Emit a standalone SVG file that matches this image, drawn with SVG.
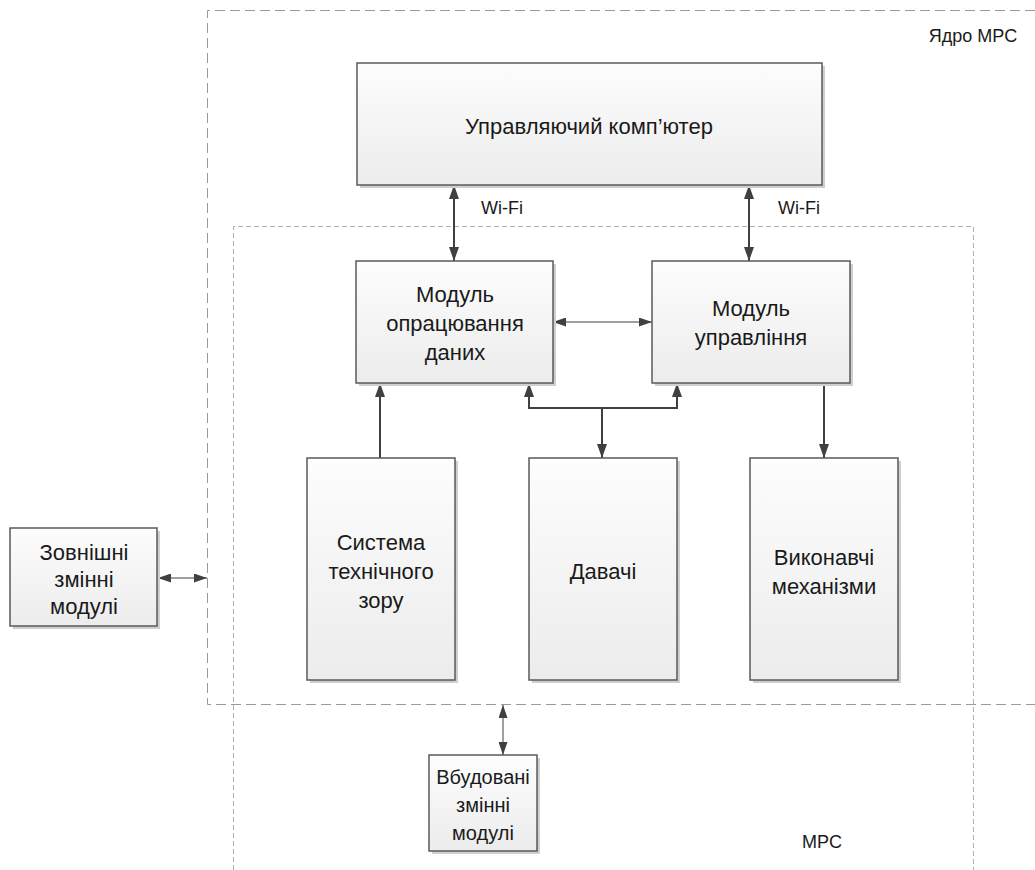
<svg xmlns="http://www.w3.org/2000/svg" width="1035" height="870" viewBox="0 0 1035 870">
<style>
.t{font-family:"Liberation Sans",Arial,sans-serif;fill:#1a1a1a;text-anchor:middle}
.b{font-size:22px}
.m{font-size:20px}
.s{font-size:17px}
.w{font-size:18px}
.box{fill:url(#g);stroke:#5a5a5a;stroke-width:1.5}
.sh{fill:#cfcfcf}
.d1{fill:none;stroke:#9a9a9a;stroke-width:1;stroke-dasharray:10 5}
.d2{fill:none;stroke:#b0b0b0;stroke-width:1;stroke-dasharray:5 3}
.a{fill:none;stroke:#404040;stroke-width:2}
.a2{fill:none;stroke:#404040;stroke-width:1}
</style>
<defs>
<linearGradient id="g" x1="0" y1="0" x2="0" y2="1">
<stop offset="0" stop-color="#fdfdfd"/>
<stop offset="1" stop-color="#ececec"/>
</linearGradient>
<marker id="m" markerUnits="userSpaceOnUse" markerWidth="14" markerHeight="10" refX="14" refY="5" orient="auto-start-reverse">
<path d="M0,0 L14,5 L0,10 z" fill="#404040"/>
</marker>
<marker id="ms" markerUnits="userSpaceOnUse" markerWidth="13" markerHeight="9" refX="13" refY="4.5" orient="auto-start-reverse">
<path d="M0,0 L13,4.5 L0,9 z" fill="#404040"/>
</marker>
</defs>

<g id="core-frame">
<path class="d1" d="M1035,10.5 H207.5 V704.5 H1035"/>
<text class="t w" x="973" y="42">Ядро МРС</text>
</g>
<g id="mrs-frame">
<path class="d2" d="M233.5,870 V226.5 H973.5 V870"/>
<text class="t w" x="822" y="848">МРС</text>
</g>

<g id="connectors">
<line class="a" x1="454" y1="185" x2="454" y2="261" marker-start="url(#m)" marker-end="url(#m)"/>
<line class="a" x1="749" y1="185" x2="749" y2="261" marker-start="url(#m)" marker-end="url(#m)"/>
<text class="t w" x="502" y="214">Wi-Fi</text>
<text class="t w" x="799" y="214">Wi-Fi</text>
<line class="a2" x1="553" y1="322" x2="652" y2="322" marker-start="url(#ms)" marker-end="url(#ms)"/>
<line class="a" x1="380" y1="458" x2="380" y2="383" marker-end="url(#m)"/>
<path class="a" d="M529,383 V408 H677 V383" marker-start="url(#m)" marker-end="url(#m)"/>
<line class="a" x1="602" y1="408" x2="602" y2="458" marker-end="url(#m)"/>
<line class="a" x1="824" y1="383" x2="824" y2="458" marker-end="url(#m)"/>
<line class="a2" x1="158" y1="578" x2="207" y2="578" marker-start="url(#ms)" marker-end="url(#ms)"/>
<line class="a2" x1="503" y1="705" x2="503" y2="755" marker-start="url(#ms)" marker-end="url(#ms)"/>
</g>

<g id="computer">
<rect class="sh" x="360" y="66" width="465" height="122"/>
<rect class="box" x="357" y="63" width="465" height="122"/>
<text class="t b" x="589" y="134">Управляючий комп’ютер</text>
</g>
<g id="data-module">
<rect class="sh" x="359" y="264" width="197" height="122"/>
<rect class="box" x="356" y="261" width="197" height="122"/>
<text class="t b" x="455" y="302">Модуль</text>
<text class="t b" x="455" y="331">опрацювання</text>
<text class="t b" x="455" y="360">даних</text>
</g>
<g id="control-module">
<rect class="sh" x="655" y="264" width="198" height="122"/>
<rect class="box" x="652" y="261" width="198" height="122"/>
<text class="t b" x="751" y="316">Модуль</text>
<text class="t b" x="751" y="345">управління</text>
</g>
<g id="vision">
<rect class="sh" x="310" y="461" width="148" height="222"/>
<rect class="box" x="307" y="458" width="148" height="222"/>
<text class="t b" x="381" y="550">Система</text>
<text class="t b" x="381" y="579">технічного</text>
<text class="t b" x="381" y="608">зору</text>
</g>
<g id="sensors">
<rect class="sh" x="532" y="461" width="148" height="222"/>
<rect class="box" x="529" y="458" width="148" height="222"/>
<text class="t b" x="603" y="579">Давачі</text>
</g>
<g id="actuators">
<rect class="sh" x="753" y="461" width="148" height="222"/>
<rect class="box" x="750" y="458" width="148" height="222"/>
<text class="t b" x="824" y="565">Виконавчі</text>
<text class="t b" x="824" y="594">механізми</text>
</g>
<g id="external">
<rect class="sh" x="13" y="531" width="147" height="98"/>
<rect class="box" x="10" y="528" width="147" height="98"/>
<text class="t b" x="84" y="560">Зовнішні</text>
<text class="t b" x="84" y="587">змінні</text>
<text class="t b" x="84" y="614">модулі</text>
</g>
<g id="embedded">
<rect class="sh" x="432" y="758" width="108" height="96"/>
<rect class="box" x="429" y="755" width="108" height="96"/>
<text class="t m" x="483" y="784">Вбудовані</text>
<text class="t m" x="483" y="812">змінні</text>
<text class="t m" x="483" y="840">модулі</text>
</g>
</svg>
